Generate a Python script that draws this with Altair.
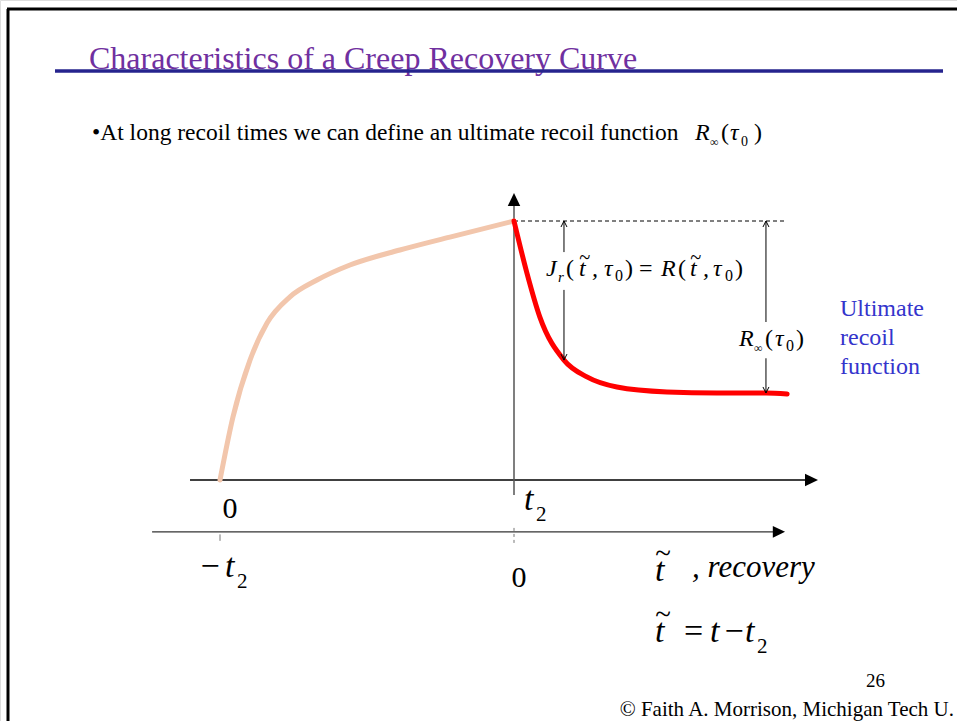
import altair as alt
import pandas as pd

W, H = 957, 721

# Creep phase: strain (normalised by its value at t2) against time t (units of t2)
creep_t = [0.0, 0.044, 0.102, 0.160, 0.238, 0.330, 0.442, 0.612, 0.782, 1.0]
creep_strain = [0.0, 0.243, 0.463, 0.606, 0.707, 0.772, 0.830, 0.888, 0.938, 1.0]

# Recovery phase: strain against recovery time t~ = t - t2
recovery_tt = [0.0, 0.044, 0.088, 0.170, 0.248, 0.350, 0.520, 0.690, 0.857, 0.929]
recovery_strain = [1.0, 0.799, 0.629, 0.463, 0.398, 0.359, 0.340, 0.336, 0.336, 0.332]

t2 = 1.0

# Frame of the drawing: where t=0 / zero strain sit and how many pixels per unit
X0, XU, Y0, YU = 220, 294, 480, 259
xs = alt.Scale(domain=[(0 - X0) / XU, (W - X0) / XU], nice=False, zero=False)
ys = alt.Scale(domain=[(Y0 - H) / YU, Y0 / YU], nice=False, zero=False)

SERIF = "Liberation Serif"
dummy = pd.DataFrame({"k": [0]})


def curve(t, j, color):
    df = pd.DataFrame({"t": t, "J": j})
    return alt.Chart(df).mark_line(
        color=color, strokeWidth=5, interpolate="monotone", strokeCap="round"
    ).encode(x=alt.X("t:Q", scale=xs, axis=None), y=alt.Y("J:Q", scale=ys, axis=None))


def seg(x1, y1, x2, y2, color="black", width=1.2, dash=None):
    df = pd.DataFrame({"a": [x1], "b": [y1], "a2": [x2], "b2": [y2]})
    kw = dict(color=color, strokeWidth=width)
    if dash:
        kw["strokeDash"] = dash
    return alt.Chart(df).mark_rule(**kw).encode(
        x=alt.X("a:Q", scale=xs, axis=None), y=alt.Y("b:Q", scale=ys, axis=None),
        x2="a2:Q", y2="b2:Q")


def head(x, y, path, size, filled=True, width=1.0):
    df = pd.DataFrame({"a": [x], "b": [y]})
    kw = dict(shape=path, size=size, filled=filled, color="black", opacity=1)
    if not filled:
        kw["strokeWidth"] = width
    return alt.Chart(df).mark_point(**kw).encode(
        x=alt.X("a:Q", scale=xs, axis=None), y=alt.Y("b:Q", scale=ys, axis=None))


def label(s, x, y, size, italic=False, color="black", align="left"):
    kw = dict(text=s, font=SERIF, fontSize=size, color=color, align=align,
              baseline="alphabetic")
    if italic:
        kw["fontStyle"] = "italic"
    return alt.Chart(dummy).mark_text(**kw).encode(x=alt.value(x), y=alt.value(y))


def tilde_t(x, y, size):
    """Italic t with a tilde accent above it (recovery time)."""
    return [
        label("t", x, y, size, italic=True),
        label("~", x + 0.24 * size, y - 0.52 * size, 0.85 * size, align="center"),
    ]


def prule(x1, y1, x2, y2, color, width):
    return alt.Chart(dummy).mark_rule(color=color, strokeWidth=width).encode(
        x=alt.value(x1), y=alt.value(y1), x2=alt.value(x2), y2=alt.value(y2))


TRI_RIGHT = "M0,0 L-1,-0.48 L-1,0.48 Z"
TRI_UP = "M0,0 L-0.48,1 L0.48,1 Z"
CHEV_UP = "M-0.5,1 L0,0 L0.5,1"
CHEV_DOWN = "M-0.5,-1 L0,0 L0.5,-1"

LOW = -0.20          # strain level at which the recovery-time axis is drawn
tick_top = 1.0       # strain at the end of creep

layers = []

# slide frame and heading
layers += [
    prule(7, 9, 957, 9, "black", 3),
    prule(8, 9, 8, 721, "black", 3),
    label("Characteristics of a Creep Recovery Curve", 89, 69, 32, color="#7030A0"),
    prule(55, 71, 943, 71, "#26248E", 3.5),
    label("\u2022At long recoil times we can define an ultimate recoil function", 92, 140, 23.5),
    label("R", 695, 140, 24, italic=True),
    label("\u221e", 710, 146, 12),
    label("(", 721, 140, 24),
    label("\u03c4", 730, 140, 24, italic=True),
    label("0", 741, 146, 14),
    label(")", 754, 140, 24),
]

# axes
layers += [
    seg(-0.102, 0, 2.02, 0, width=1.5),
    head(2.034, 0, TRI_RIGHT, 676),
    seg(-0.231, LOW, 1.905, LOW, color="#333333", width=1.2),
    head(1.922, LOW, TRI_RIGHT, 600),
    seg(t2, -0.058, t2, 1.07, color="#555555", width=1.5),
    head(t2, 1.108, TRI_UP, 676),
    seg(0, LOW - 0.01, 0, LOW - 0.035, color="#777777", width=1),
    seg(t2, LOW + 0.015, t2, LOW - 0.05, color="#777777", width=1, dash=[3, 3]),
    seg(t2, 1.0, 1.922, 1.0, width=1, dash=[4, 3]),
]

# curves
layers += [
    curve(creep_t, creep_strain, "#F2C6AC"),
    curve([t2 + v for v in recovery_tt], recovery_strain, "#FF0000"),
]

# recoil arrows (broken where the labels sit)
xa = t2 + recovery_tt[3]
xb = t2 + recovery_tt[8]
layers += [
    seg(xa, tick_top, xa, 0.88, width=1),
    seg(xa, 0.734, xa, recovery_strain[3], width=1),
    head(xa, tick_top, CHEV_UP, 144, filled=False),
    head(xa, recovery_strain[3], CHEV_DOWN, 144, filled=False),
    seg(xb, tick_top, xb, 0.61, width=1),
    seg(xb, 0.47, xb, recovery_strain[8], width=1),
    head(xb, tick_top, CHEV_UP, 144, filled=False),
    head(xb, recovery_strain[8], CHEV_DOWN, 144, filled=False),
]

# recoil function labels
layers += [
    label("J", 546, 276, 24, italic=True),
    label("r", 558, 282, 15, italic=True),
    label("(", 566, 276, 24),
    *tilde_t(579, 276, 24),
    label(",", 592, 276, 24, italic=True),
    label("\u03c4", 604, 276, 24, italic=True),
    label("0", 615, 281, 16),
    label(")", 625, 276, 24),
    label("=", 639, 276, 24),
    label("R", 661, 276, 24, italic=True),
    label("(", 678, 276, 24),
    *tilde_t(690, 276, 24),
    label(",", 703, 276, 24, italic=True),
    label("\u03c4", 713, 276, 24, italic=True),
    label("0", 725, 281, 16),
    label(")", 735, 276, 24),
    label("R", 739, 346, 24, italic=True),
    label("\u221e", 754, 352, 12),
    label("(", 765, 346, 24),
    label("\u03c4", 775, 346, 24, italic=True),
    label("0", 786, 351, 16),
    label(")", 796, 346, 24),
    label("Ultimate", 840, 316, 24, color="#3434CC"),
    label("recoil", 840, 345, 24, color="#3434CC"),
    label("function", 840, 374, 24, color="#3434CC"),
]

# axis labels
layers += [
    label("0", 230, 518, 30, align="center"),
    label("t", 524, 510, 34, italic=True),
    label("2", 536, 521, 21),
    label("\u2212", 210, 577, 34, align="center"),
    label("t", 225, 577, 34, italic=True),
    label("2", 237, 588, 21),
    label("0", 519, 587, 30, align="center"),
    *tilde_t(655, 581, 34),
    label(", recovery", 692, 577, 31, italic=True),
    *tilde_t(655, 642, 34),
    label("=", 684, 642, 34),
    label("t", 710, 642, 34, italic=True),
    label("\u2212", 734, 642, 34, align="center"),
    label("t", 745, 642, 34, italic=True),
    label("2", 757, 653, 21),
]

# footer
layers += [
    label("26", 885, 687, 19, align="right"),
    label("\u00a9 Faith A. Morrison, Michigan Tech U.", 954, 716, 21, align="right"),
]

chart = alt.layer(*layers).properties(
    width=W, height=H, autosize=alt.AutoSizeParams(type="none"), padding=0
).configure_view(stroke=None).configure(background="white")

chart.save("out.html", embed_options={"renderer": "svg", "actions": False})
